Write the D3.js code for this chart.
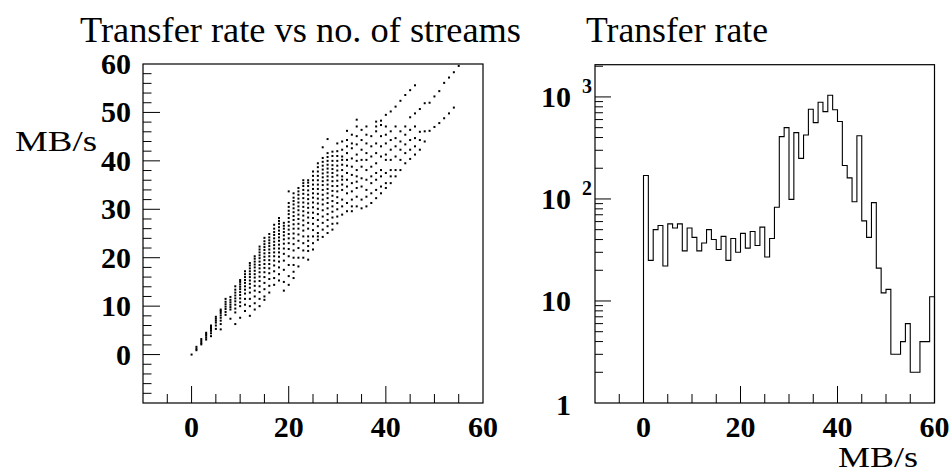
<!DOCTYPE html>
<html>
<head>
<meta charset="utf-8">
<script src="https://cdn.jsdelivr.net/npm/d3@7"></script>
<style>
body { margin: 0; background: #fff; }
svg { display: block; }
</style>
</head>
<body>
<script>
// number of streams (one column of points for each)
var streams = [];
for (var s = 0; s <= 55; s++) streams.push(s);

// transfer rates, one list per column
var rates = [
  [0],
  [0.9, 1.2, 1.6],
  [2.1, 2.4, 2.8, 3.2],
  [3.1, 3.5, 3.9, 4.2, 4.5],
  [3.8, 4.4, 4.9, 5.3, 5.7, 6.0],
  [5.3, 6.0, 6.6, 7.0, 7.4, 7.8],
  [5.2, 6.3, 7.0, 7.6, 8.1, 8.6, 9.0, 9.3],
  [8.2, 8.8, 9.4, 9.9, 10.4, 10.9, 11.5],
  [7.4, 9.3, 9.8, 10.3, 10.8, 11.3, 11.9],
  [6.3, 8.7, 9.5, 10.3, 11.0, 11.6, 12.2, 12.8, 13.4, 14.1],
  [7.6, 10.0, 10.8, 11.6, 12.3, 12.9, 13.5, 14.0, 14.5, 15.0, 15.4],
  [9.0, 10.3, 11.5, 12.6, 13.4, 14.1, 14.8, 15.4, 16.0, 16.6, 17.2],
  [8.0, 10.0, 11.5, 12.8, 13.8, 14.6, 15.3, 16.0, 16.6, 17.2, 17.8, 18.4, 18.9],
  [9.3, 10.6, 12.0, 13.2, 14.2, 15.1, 15.9, 16.6, 17.3, 18.0, 18.6, 19.2, 19.8, 20.3],
  [10.0, 11.5, 12.9, 14.1, 15.2, 16.1, 17.0, 17.8, 18.5, 19.2, 19.9, 20.5, 21.1, 21.7, 22.3],
  [11.3, 12.0, 13.5, 14.8, 16.0, 17.0, 17.9, 18.7, 19.5, 20.2, 20.9, 21.6, 22.2, 22.8, 23.4, 24.1],
  [12.8, 14.2, 15.6, 16.8, 17.8, 18.7, 19.5, 20.3, 21.0, 21.7, 22.4, 23.0, 23.6, 24.2, 24.9],
  [14.4, 15.8, 17.2, 18.4, 19.4, 20.3, 21.1, 21.9, 22.6, 23.3, 24.0, 24.7, 25.3, 26.0, 26.8],
  [15.3, 16.6, 18.0, 19.2, 20.2, 21.1, 21.9, 22.7, 23.5, 24.2, 24.9, 25.6, 26.3, 27.0, 27.6, 28.2],
  [13.2, 15.0, 17.5, 19.4, 20.8, 21.9, 22.9, 23.8, 24.6, 25.3, 26.0, 26.6, 27.2],
  [14.4, 16.2, 18.5, 20.3, 21.8, 23.0, 24.0, 24.9, 25.8, 26.6, 27.4, 28.2, 29.0, 29.7, 30.5, 31.3, 33.7],
  [15.8, 17.1, 18.5, 20.0, 21.5, 22.8, 24.0, 25.0, 26.0, 26.9, 27.8, 28.6, 29.4, 30.2, 31.0, 31.7, 32.4, 33.3],
  [18.2, 20.0, 22.0, 23.5, 24.8, 26.0, 27.0, 28.0, 28.9, 29.8, 30.6, 31.4, 32.2, 33.0, 33.7, 34.4],
  [20.0, 21.5, 23.0, 24.4, 25.6, 26.7, 27.7, 28.7, 29.6, 30.5, 31.4, 32.3, 33.2, 34.0, 34.8, 35.4, 36.0],
  [19.6, 21.4, 22.4, 23.5, 24.4, 26.0, 27.2, 28.3, 29.3, 30.3, 31.2, 32.1, 33.0, 33.9, 34.8, 35.5, 36.0],
  [21.7, 23.0, 24.4, 25.7, 27.0, 28.2, 29.3, 30.4, 31.4, 32.4, 33.3, 34.2, 35.1, 36.0, 36.9, 37.8],
  [23.7, 24.4, 25.1, 26.5, 27.8, 29.0, 30.1, 31.2, 32.2, 33.2, 34.2, 35.1, 36.0, 36.9, 37.8, 38.7, 39.5],
  [24.3, 25.8, 27.2, 28.5, 29.8, 31.0, 32.0, 33.0, 34.0, 35.0, 35.8, 36.6, 37.4, 38.2, 39.0, 39.8, 40.6, 42.8],
  [25.1, 26.5, 27.8, 29.0, 30.2, 31.3, 32.3, 33.3, 34.2, 35.1, 36.0, 36.8, 37.6, 38.4, 39.2, 40.0, 40.8, 41.6, 44.5],
  [25.8, 27.0, 28.3, 29.5, 30.6, 31.7, 32.8, 33.8, 34.8, 35.8, 36.7, 37.5, 38.3, 39.1, 40.0, 41.0, 41.9],
  [27.1, 28.5, 30.0, 31.3, 32.5, 33.7, 34.8, 35.9, 37.0, 38.0, 39.0, 40.0, 41.0, 42.0, 43.6],
  [28.9, 30.6, 32.0, 34.0, 35.1, 36.1, 36.8, 38.1, 39.2, 40.2, 40.9, 42.3, 44.0],
  [29.6, 31.3, 33.3, 34.7, 36.1, 37.5, 39.0, 40.2, 41.6, 43.0, 44.3, 46.2],
  [29.6, 30.6, 32.0, 33.7, 35.4, 37.1, 38.8, 40.5, 42.6, 43.6, 45.4],
  [30.6, 32.6, 34.4, 35.7, 36.8, 38.1, 40.0, 41.3, 43.4, 45.1, 47.1, 48.5],
  [30.2, 32.0, 34.7, 36.4, 38.8, 40.2, 42.3, 44.3, 46.4],
  [30.6, 32.6, 34.0, 36.1, 38.1, 40.2, 41.6, 43.6, 45.4, 47.1],
  [31.3, 33.3, 35.4, 36.8, 38.8, 40.9, 43.0, 45.1],
  [32.3, 34.0, 36.1, 37.5, 39.5, 41.6, 43.6, 46.1, 47.1, 48.1],
  [33.3, 34.7, 36.8, 38.1, 40.9, 43.0, 45.1, 47.4, 48.3],
  [34.4, 35.4, 37.5, 40.2, 41.3, 43.6, 45.4, 47.1, 49.5],
  [35.4, 36.8, 38.1, 40.2, 42.3, 44.3, 46.1, 50.2],
  [36.8, 38.1, 40.9, 43.0, 44.7, 47.1, 51.2],
  [38.1, 40.2, 42.3, 44.0, 46.1, 52.4],
  [39.5, 41.6, 43.4, 45.4, 47.1, 53.6],
  [40.4, 42.3, 44.3, 46.4, 49.0, 54.6],
  [41.3, 43.0, 44.7, 47.1, 49.8, 55.6],
  [42.3, 44.3, 46.0, 50.7],
  [44.0, 46.1, 51.9],
  [46.2, 52.0],
  [47.0, 53.3],
  [47.8, 54.4],
  [48.8, 56.1],
  [49.8, 57.2],
  [51.0, 58.3],
  [59.6]
];

// transfer rate histogram, bins of 1 MB/s from 0 to 60
var binLow = [];
for (var b = 0; b < 60; b++) binLow.push(b);
var counts = [170, 25, 50, 55, 22, 57, 52, 57, 31, 52,
              42, 31, 37, 50, 40, 32, 43, 25, 41, 30,
              46, 33, 48, 35, 53, 27, 41, 83, 408, 500,
              99, 447, 250, 424, 757, 560, 887, 718, 1040, 750,
              575, 213, 161, 94, 416, 61, 42, 92, 21, 12,
              13, 3, 3, 4, 6, 2, 2, 4, 4, 11];

var xTicks = [0, 20, 40, 60];
var yTicks = [0, 10, 20, 30, 40, 50, 60];
var logTicks = [1, 10, 100, 1000];

var W = 949, H = 475;
var serif = "'Liberation Serif', 'Times New Roman', serif";

var svg = d3.select("body").append("svg")
    .attr("width", W)
    .attr("height", H);

// ---------- left pad: scatter ----------
var x1 = d3.scaleLinear().domain([-10, 60]).range([143, 483]);
var y1 = d3.scaleLinear().domain([-10, 60]).range([403, 64]);

var pts = [];
streams.forEach(function(s, i) {
    rates[i].forEach(function(r) { pts.push([s, r]); });
});

svg.append("g").selectAll("rect")
    .data(pts)
    .enter()
    .append("rect")
    .attr("x", function(d) { return x1(d[0]) - 1; })
    .attr("y", function(d) { return y1(d[1]) - 1; })
    .attr("width", 2)
    .attr("height", 2)
    .attr("fill", "#000");

drawFrame(x1, y1);

// ticks on the left pad
var ax1 = svg.append("g");
d3.range(-10, 61, 5).forEach(function(v) {
    if (v === -10 || v === 60) return;
    var len = (v % 20 === 0) ? 17 : 9;
    ax1.append("line").attr("x1", x1(v)).attr("x2", x1(v))
        .attr("y1", 403).attr("y2", 403 - len)
        .attr("stroke", "#000");
});
d3.range(-10, 61, 2).forEach(function(v) {
    if (v === -10 || v === 60) return;
    var len = (v % 10 === 0) ? 17 : 8.5;
    ax1.append("line").attr("x1", 143).attr("x2", 143 + len)
        .attr("y1", y1(v)).attr("y2", y1(v))
        .attr("stroke", "#000");
});

svg.append("g").selectAll("text")
    .data(yTicks)
    .enter()
    .append("text")
    .attr("x", 131)
    .attr("y", function(d) { return y1(d) + 10; })
    .attr("text-anchor", "end")
    .attr("font-family", serif)
    .attr("font-weight", "bold")
    .attr("font-size", 30)
    .text(function(d) { return d; });

svg.append("g").selectAll("text")
    .data(xTicks)
    .enter()
    .append("text")
    .attr("x", function(d) { return x1(d); })
    .attr("y", 437)
    .attr("text-anchor", "middle")
    .attr("font-family", serif)
    .attr("font-weight", "bold")
    .attr("font-size", 30)
    .text(function(d) { return d; });

// ---------- right pad: histogram ----------
var x2 = d3.scaleLinear().domain([-10, 60]).range([595, 934.5]);
var y2 = d3.scaleLog().domain([1, 2070]).range([403, 64.7]);

var line = "M" + x2(0) + "," + y2(1);
binLow.forEach(function(b, i) {
    line += "L" + x2(b) + "," + y2(counts[i]) + "L" + x2(b + 1) + "," + y2(counts[i]);
});
line += "L" + x2(60) + "," + y2(1);
svg.append("path")
    .attr("d", line)
    .attr("fill", "none")
    .attr("stroke", "#000")
    .attr("stroke-width", 1.1);

drawFrame(x2, y2);

var ax2 = svg.append("g");
d3.range(-10, 61, 5).forEach(function(v) {
    if (v === -10 || v === 60) return;
    var len = (v % 20 === 0) ? 17 : 9;
    ax2.append("line").attr("x1", x2(v)).attr("x2", x2(v))
        .attr("y1", 403).attr("y2", 403 - len)
        .attr("stroke", "#000");
});
y2.ticks().forEach(function(v) {
    if (v <= 1) return;
    var major = logTicks.indexOf(v) >= 0;
    ax2.append("line").attr("x1", 595).attr("x2", 595 + (major ? 16 : 8))
        .attr("y1", y2(v)).attr("y2", y2(v))
        .attr("stroke", "#000");
});

svg.append("g").selectAll("text")
    .data(xTicks)
    .enter()
    .append("text")
    .attr("x", function(d) { return x2(d); })
    .attr("y", 437)
    .attr("text-anchor", "middle")
    .attr("font-family", serif)
    .attr("font-weight", "bold")
    .attr("font-size", 30)
    .text(function(d) { return d; });

// log labels: 1, 10, 10^2, 10^3
var logLab = svg.append("g")
    .attr("font-family", serif)
    .attr("font-weight", "bold");
logTicks.forEach(function(v) {
    var p = Math.round(Math.log10(v));
    var yy = y2(v);
    logLab.append("text")
        .attr("x", 571)
        .attr("y", yy + (v === 1 ? 12 : 10.5))
        .attr("text-anchor", "end")
        .attr("font-size", 30)
        .text(v === 1 ? "1" : "10");
    if (p >= 2) {
        logLab.append("text")
            .attr("x", 582)
            .attr("y", yy - 3.5)
            .attr("font-size", 20)
            .text(p);
    }
});

// ---------- titles ----------
svg.append("text")
    .attr("x", 80).attr("y", 42)
    .attr("font-family", serif)
    .attr("font-size", 35)
    .attr("textLength", 441)
    .attr("lengthAdjust", "spacingAndGlyphs")
    .text("Transfer rate vs no. of streams");

svg.append("text")
    .attr("x", 586).attr("y", 42)
    .attr("font-family", serif)
    .attr("font-size", 35)
    .attr("textLength", 182)
    .attr("lengthAdjust", "spacingAndGlyphs")
    .text("Transfer rate");

svg.append("text")
    .attr("x", 15).attr("y", 151)
    .attr("font-family", serif)
    .attr("font-size", 30)
    .attr("textLength", 82)
    .attr("lengthAdjust", "spacingAndGlyphs")
    .text("MB/s");

svg.append("text")
    .attr("x", 838).attr("y", 467)
    .attr("font-family", serif)
    .attr("font-size", 30)
    .attr("textLength", 80)
    .attr("lengthAdjust", "spacingAndGlyphs")
    .text("MB/s");

//draws the box around a pad
function drawFrame(xs, ys) {
    var r = xs.range(), t = ys.range();
    svg.append("rect")
        .attr("x", r[0]).attr("y", t[1])
        .attr("width", r[1] - r[0])
        .attr("height", t[0] - t[1])
        .attr("fill", "none")
        .attr("stroke", "#000")
        .attr("stroke-width", 1.2);
}
</script>
</body>
</html>
